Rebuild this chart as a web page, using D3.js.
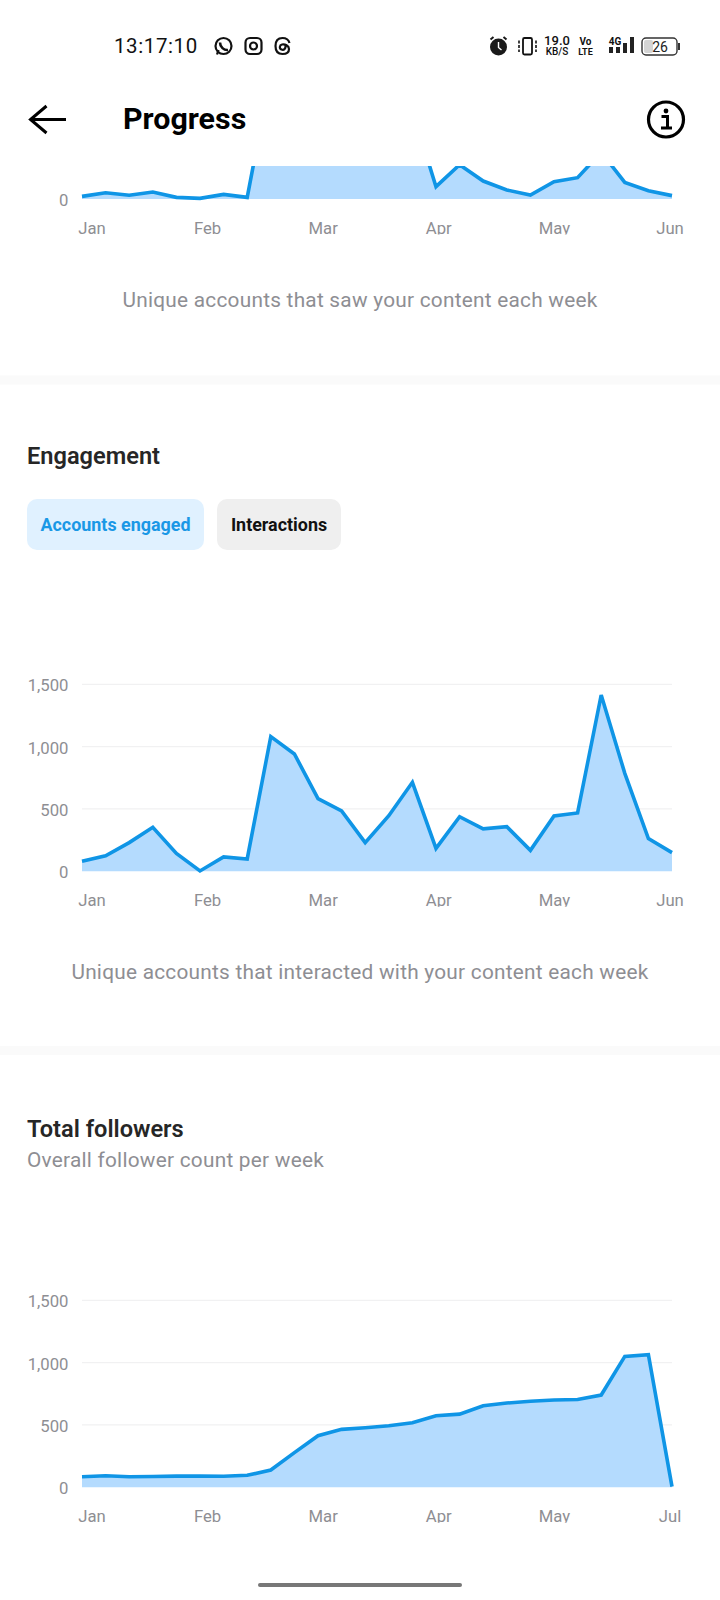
<!DOCTYPE html>
<html><head><meta charset="utf-8">
<script src="https://cdn.jsdelivr.net/npm/d3@7"></script>
<style>
html,body{margin:0;padding:0;background:#fff;width:720px;height:1600px;overflow:hidden}
svg{display:block;font-family:Roboto,sans-serif}
</style></head><body>
<svg id="s" width="720" height="1600" viewBox="0 0 720 1600"></svg>
<script>
const yTicks = [0, 500, 1000, 1500];
const monthsA = ["Jan","Feb","Mar","Apr","May","Jun"];
const monthsB = ["Jan","Feb","Mar","Apr","May","Jul"];
const weeks = d3.range(26);
// Reach: the values between Feb and Apr lie above the crop of the screenshot and are estimates
const reachValues = [21,50,30,56,13,5,37,13,1000,900,820,760,740,720,710,99,275,144,72,32,139,171,375,133,67,27];
const engagedValues = [80,125,230,353,144,3,115,99,1080,941,583,484,230,446,714,184,438,340,358,168,444,468,1414,786,262,150];
const followerValues = [85,93,85,87,90,90,89,96,139,278,414,465,478,494,518,574,587,654,676,690,700,704,740,1050,1063,5];

const svg = d3.select("#s");
const GRAY = "#8e8e93", BLUE = "#0f95e6", FILL = "#b4dbfe";
const x = d3.scaleLinear().domain([0,25]).range([82,672]);
const fmt = d3.format(",");

function chart(baseY, values, months, opts){
  const y = d3.scaleLinear().domain([0,1500]).range([baseY, baseY-187]);
  const g = svg.append("g");
  const id = "c"+Math.round(baseY);
  const defs = g.append("defs");
  defs.append("clipPath").attr("id",id+"x").append("rect").attr("x",60).attr("y",baseY+18).attr("width",640).attr("height",17.5);
  if(opts.clipTop) defs.append("clipPath").attr("id",id+"p").append("rect").attr("x",60).attr("y",opts.clipTop).attr("width",640).attr("height",baseY-opts.clipTop+4);
  const ticks = opts.clipTop ? [0] : yTicks;
  if(!opts.clipTop){
    g.append("g").selectAll("line").data(ticks.filter(d=>d>0)).join("line")
      .attr("x1",x(0)).attr("x2",x(25)).attr("y1",d=>y(d)).attr("y2",d=>y(d))
      .attr("stroke","#f1f1f2").attr("stroke-width",1.2);
  }
  g.append("g").selectAll("text").data(ticks).join("text")
    .attr("x",68.5).attr("y",d=>y(d)+7).attr("text-anchor","end")
    .attr("font-size",16.7).attr("fill",GRAY).text(d=>fmt(d));
  const p = g.append("g");
  if(opts.clipTop) p.attr("clip-path",`url(#${id}p)`);
  const area = d3.area().x((d,i)=>x(i)).y0(y(0)).y1(d=>y(d));
  const line = d3.line().x((d,i)=>x(i)).y(d=>y(d));
  p.append("path").datum(values).attr("d",area).attr("fill",FILL);
  p.append("path").datum(values).attr("d",line).attr("fill","none").attr("stroke",BLUE).attr("stroke-width",3.6).attr("stroke-linejoin","miter");
  const mx = d3.scalePoint().domain(months).range([92,670]);
  g.append("g").attr("clip-path",`url(#${id}x)`).selectAll("text").data(months).join("text")
    .attr("x",d=>mx(d)).attr("y",baseY+34.5).attr("text-anchor","middle")
    .attr("font-size",16.7).attr("fill",GRAY).text(d=>d);
}

function txt(x0,y0,t,size,fill,weight,anchor,ls){
  return svg.append("text").attr("x",x0).attr("y",y0).attr("font-size",size).attr("fill",fill)
    .attr("font-weight",weight||400).attr("text-anchor",anchor||"start").attr("letter-spacing",ls||0).text(t);
}

// separators
[[375.5,9],[1046,9]].forEach(([a,h])=>svg.append("rect").attr("x",0).attr("y",a).attr("width",720).attr("height",h).attr("fill","#fafafa"));

chart(199, reachValues, monthsA, {clipTop:166});
chart(871.3, engagedValues, monthsA, {});
chart(1487.3, followerValues, monthsB, {});

// captions
txt(360,306.5,"Unique accounts that saw your content each week",20.8,GRAY,400,"middle",.25);
txt(360,978.5,"Unique accounts that interacted with your content each week",20.8,GRAY,400,"middle",.25);

// Engagement header and tabs
txt(27,464,"Engagement",23.6,"#262626",600);
svg.append("rect").attr("x",27).attr("y",499).attr("width",177).attr("height",51).attr("rx",10).attr("fill","#e0f1ff");
svg.append("rect").attr("x",217).attr("y",499).attr("width",124).attr("height",51).attr("rx",10).attr("fill","#efefef");
txt(115.5,531,"Accounts engaged",17.9,"#1a98e6",700,"middle");
txt(279,531,"Interactions",17.9,"#111",700,"middle");

// Followers header
txt(27,1137,"Total followers",23.6,"#262626",600);
txt(27,1166.5,"Overall follower count per week",20.8,GRAY,400,"start",.25);

// App bar
txt(123,129,"Progress",30.4,"#000",700);
svg.append("path").attr("d","M66 119.5H31M46.5 106L30.5 119.5L46.5 133").attr("fill","none").attr("stroke","#000").attr("stroke-width",3);
svg.append("circle").attr("cx",666).attr("cy",119.5).attr("r",17.5).attr("fill","none").attr("stroke","#000").attr("stroke-width",3.2);
svg.append("circle").attr("cx",666).attr("cy",111).attr("r",2.4).attr("fill","#000");
svg.append("path").attr("d","M661.5 116.5H667.5V127.5M661 128H672").attr("fill","none").attr("stroke","#000").attr("stroke-width",3);

// Status bar
txt(114,53,"13:17:10",20.5,"#111",400,"start",.6);
const ic = svg.append("g").attr("fill","none").attr("stroke","#111").attr("stroke-width",2.2);
ic.append("circle").attr("cx",223.5).attr("cy",46).attr("r",8);
ic.append("path").attr("d","M217 54.5L218.5 50");
svg.append("path").attr("d","M220 42.5C220 47 224 50.5 228 50").attr("fill","none").attr("stroke","#111").attr("stroke-width",2.6);
ic.append("rect").attr("x",245.5).attr("y",38).attr("width",16).attr("height",16).attr("rx",4.5);
ic.append("circle").attr("cx",253.5).attr("cy",46).attr("r",3.5);
ic.append("path").attr("d","M289.5 43C288.5 39.5 286 38 282.5 38C277.5 38 275.5 41.5 275.5 46C275.5 50.5 277.5 54 282.5 54C286.5 54 289 52 289 49C289 45.5 285 44 282 44.5C279.5 45 279 48.5 281.5 49.5C284 50.5 286 48.5 285.5 45");
// alarm
svg.append("circle").attr("cx",498.5).attr("cy",47).attr("r",8.5).attr("fill","#1a1a1a");
svg.append("path").attr("d","M498.5 42V47.5L501.5 50").attr("fill","none").attr("stroke","#fff").attr("stroke-width",1.4);
svg.append("path").attr("d","M490.5 39.5L493.5 37M506.5 39.5L503.5 37").attr("fill","none").attr("stroke","#1a1a1a").attr("stroke-width",2);
// vibrate
svg.append("rect").attr("x",523).attr("y",38).attr("width",9).attr("height",16.5).attr("rx",1.5).attr("fill","none").attr("stroke","#111").attr("stroke-width",1.8);
svg.append("path").attr("d","M519 40.5V52M536 40.5V52").attr("stroke","#111").attr("stroke-width",1.6).attr("stroke-dasharray","3 1.5");
txt(557,44.5,"19.0",13,"#111",500,"middle");
txt(557,55,"KB/S",10,"#111",500,"middle");
txt(585.5,44.5,"Vo",10,"#111",700,"middle");
txt(585.5,55,"LTE",9,"#111",700,"middle");
txt(615,45,"4G",10,"#111",700,"middle");
const bars = [[609,47,6],[616,47,6],[623,43,10],[630,37,16]];
svg.append("g").selectAll("rect").data(bars).join("rect")
  .attr("x",d=>d[0]).attr("y",d=>d[1]).attr("width",4).attr("height",d=>d[2]).attr("fill","#222");
svg.append("rect").attr("x",642).attr("y",38).attr("width",35).attr("height",17).attr("rx",4).attr("fill","none").attr("stroke","#333").attr("stroke-width",1.4);
svg.append("rect").attr("x",644).attr("y",40).attr("width",9).attr("height",13).attr("rx",2).attr("fill","#d4d4d4");
svg.append("rect").attr("x",678).attr("y",43).attr("width",2).attr("height",7).attr("fill","#333");
txt(660,52,"26",14,"#222",400,"middle");

// Gesture bar
svg.append("rect").attr("x",258).attr("y",1583).attr("width",204).attr("height",4).attr("rx",2).attr("fill","#777");
</script></body></html>
